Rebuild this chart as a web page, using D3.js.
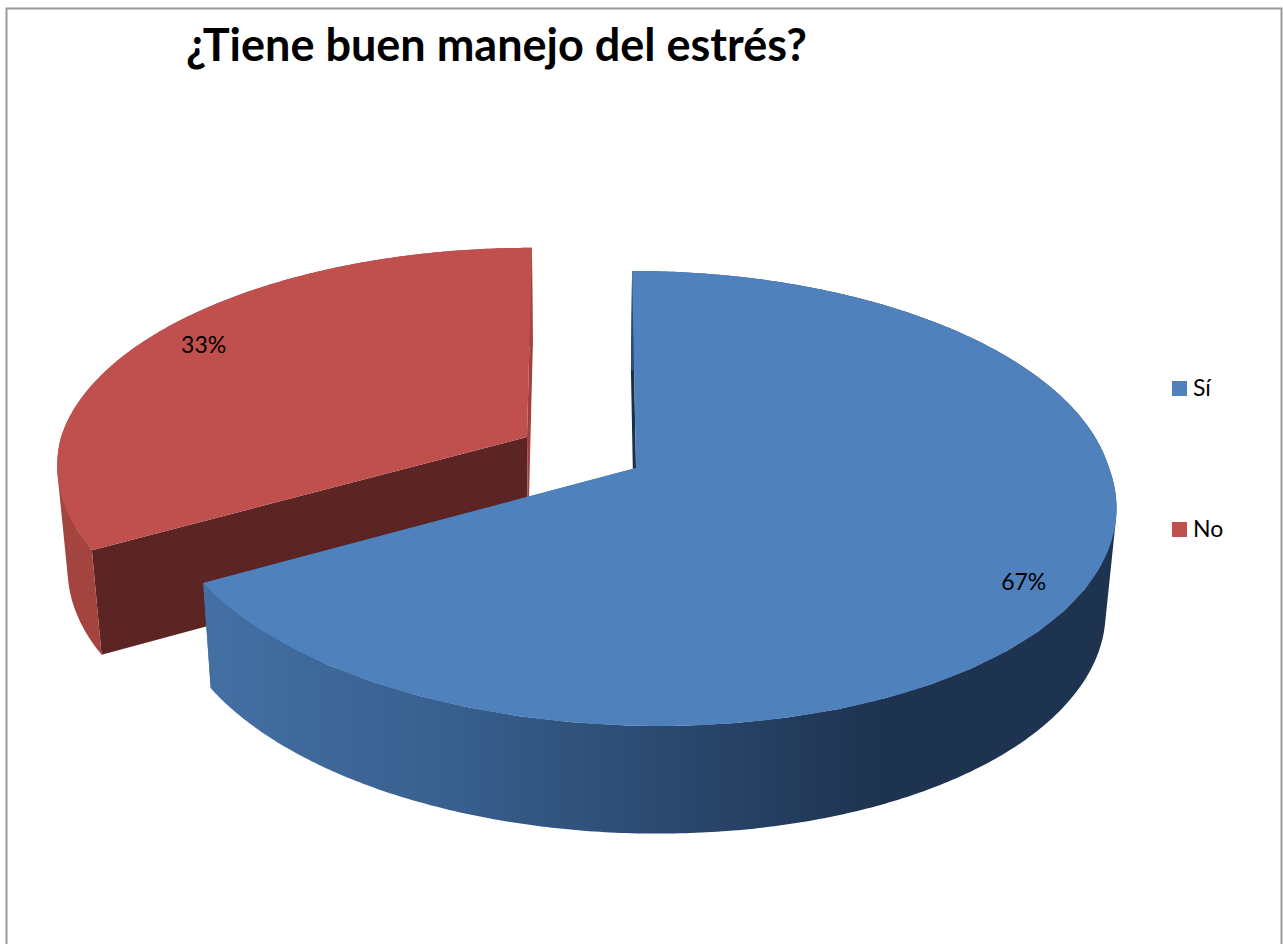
<!DOCTYPE html>
<html><head><meta charset="utf-8">
<style>html,body{margin:0;padding:0;background:#fff;overflow:hidden}text{font-family:Lato,"Open Sans",sans-serif;fill:#000}</style>
<script src="https://cdnjs.cloudflare.com/ajax/libs/d3/7.8.5/d3.min.js"></script>
</head><body><svg id="c" width="1283" height="944"></svg>
<script>
const chartTitle = "¿Tiene buen manejo del estrés?";
const categories = ["Sí", "No"];
const values = [67, 33];
const percentLabels = ["67%", "33%"];
const topColors = ["#4f81bd", "#c0504d"];

const svg = d3.select("#c");
const W = 1283, H = 944;
svg.append("rect").attr("width", W).attr("height", H).attr("fill", "#fff");
svg.append("path").attr("d", `M6.5,${H}V8.5H1281.5V${H}`).attr("fill", "none").attr("stroke", "#9a9a9a").attr("stroke-width", 2);

const pie = d3.pie().sort(null).value(d => d).startAngle(0).endAngle(2 * Math.PI);
const arcs = pie(values);

const a = 473, b = 223.4, k = 0.134;
const slices = [
  {apex: [636, 468], scale: 1, backY: 1, skewBack: 0.02, skewFront: 0.09, labelR: 0.88, labelShift: [-3, 7]},
  {apex: [527, 437], scale: 0.985, backY: 0.975, skewBack: -0.026, skewFront: 0.012, labelR: 0.84, labelShift: [-7, -5]}
];
function project(s, angle, r) {
  const u = r * Math.sin(angle), v = -r * Math.cos(angle), den = 1 - k * v;
  let yy = s.scale * b * v / den;
  if (yy < 0) yy *= s.backY;
  const sk = yy < 0 ? s.skewBack : s.skewFront;
  return [s.apex[0] + s.scale * a * u / den + sk * yy, s.apex[1] + yy];
}
const vx = 575, sx = 0.98;
function extrude(p) {
  return [vx + (p[0] - vx) * sx, p[1] + 103 + (p[1] - 468) * 0.018];
}
const line = d3.line();
function arcPts(s, a0, a1) {
  const n = Math.max(2, Math.ceil(Math.abs(a1 - a0) / 0.01));
  return d3.range(n + 1).map(i => project(s, a0 + (a1 - a0) * i / n, 1));
}

const defs = svg.append("defs");
const grad = defs.append("linearGradient").attr("id", "blueSide").attr("gradientUnits", "userSpaceOnUse")
  .attr("x1", 212).attr("x2", 880).attr("y1", 0).attr("y2", 0);
grad.append("stop").attr("offset", 0).attr("stop-color", "#446fa3");
grad.append("stop").attr("offset", 0.35).attr("stop-color", "#38608f");
grad.append("stop").attr("offset", 1).attr("stop-color", "#1e3350");

function drawSlice(i, sideFill, faceFillStart, faceFillEnd) {
  const d = arcs[i], s = slices[i], g = svg.append("g");
  const ap = s.apex, apE = extrude(ap);
  const st = project(s, d.startAngle, 1), en = project(s, d.endAngle, 1);
  // cut faces
  g.append("path").attr("d", line([ap, st, extrude(st), apE]) + "Z").attr("fill", faceFillStart);
  g.append("path").attr("d", line([ap, en, extrude(en), apE]) + "Z").attr("fill", faceFillEnd);
  // outer wall: union of small convex pieces so the silhouette keeps its tangent edges
  const top = arcPts(s, d.startAngle, d.endAngle);
  let wall = "";
  for (let j = 0; j < top.length - 1; j += 10) {
    const piece = top.slice(j, j + 11);
    wall += line(d3.polygonHull(piece.concat(piece.map(extrude)))) + "Z";
  }
  g.append("path").attr("d", wall).attr("fill", sideFill);
  // top
  g.append("path").attr("d", line([ap].concat(top)) + "Z").attr("fill", topColors[i]);
  const mid = (d.startAngle + d.endAngle) / 2;
  const lp = project(s, mid, s.labelR);
  return () => svg.append("text").attr("x", lp[0] + s.labelShift[0]).attr("y", lp[1] + s.labelShift[1]).attr("dy", "0.35em")
    .attr("text-anchor", "middle").attr("font-size", 23).text(percentLabels[i]);
}
// the "No" slice sits behind the "Sí" slice
const lab1 = drawSlice(1, "#a3443f", "#5c2523", "#a3403d");
const lab0 = drawSlice(0, "url(#blueSide)", "#1a3048", "#446fa3");
lab0(); lab1();

svg.append("text").attr("x", 186).attr("y", 61).attr("font-size", 45).attr("font-weight", 700).text(chartTitle);

const lg = svg.selectAll("g.lg").data(categories).join("g").attr("class", "lg")
  .attr("transform", (d, i) => `translate(1172,${381 + i * 141})`);
lg.append("rect").attr("width", 15).attr("height", 15).attr("fill", (d, i) => topColors[i]);
lg.append("text").attr("x", 21).attr("y", 15).attr("font-size", 23).text(d => d);
</script></body></html>
